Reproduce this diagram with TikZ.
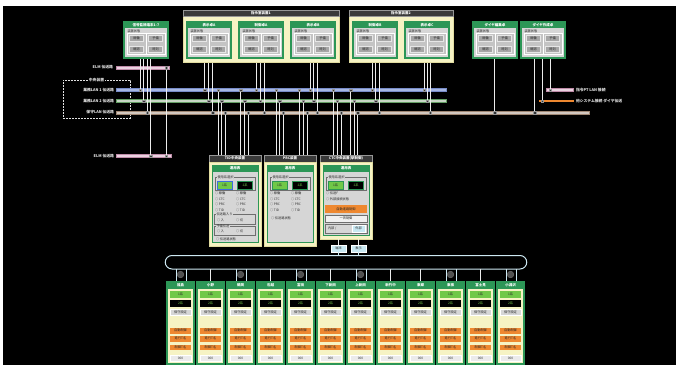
\documentclass[tikz,border=0pt]{standalone}
\usepackage{fontspec}
\setmainfont{Noto Sans CJK JP}
\definecolor{cgreen}{RGB}{44,150,86}
\definecolor{cbody}{RGB}{214,214,214}
\definecolor{cframe}{RGB}{196,196,196}
\definecolor{cbtn}{RGB}{166,166,166}
\definecolor{cbtnE}{RGB}{230,230,230}
\definecolor{cdark}{RGB}{40,40,40}
\definecolor{cmid}{RGB}{110,110,110}
\definecolor{cyel}{RGB}{246,243,196}
\definecolor{cyelE}{RGB}{225,220,160}
\definecolor{chead}{RGB}{58,58,58}
\definecolor{cgrayE}{RGB}{150,150,150}
\definecolor{clime}{RGB}{112,200,72}
\definecolor{corange}{RGB}{238,136,48}
\definecolor{cring}{RGB}{205,232,242}
\definecolor{cblue}{RGB}{166,182,226}
\definecolor{cblueE}{RGB}{120,140,200}
\definecolor{cbtnblue}{RGB}{60,110,220}
\definecolor{cgrn}{RGB}{200,214,198}
\definecolor{cgrnE}{RGB}{100,160,100}
\definecolor{ctan}{RGB}{210,200,192}
\definecolor{ctanE}{RGB}{160,135,115}
\definecolor{cpink}{RGB}{234,210,224}
\definecolor{cpinkE}{RGB}{190,140,168}
\definecolor{cline}{RGB}{235,235,235}
\definecolor{cdot}{RGB}{50,50,50}
\definecolor{clabel}{RGB}{225,225,225}
\definecolor{chub}{RGB}{80,80,80}
\definecolor{cltblue}{RGB}{200,232,242}
\tikzset{
 base/.style={inner sep=0pt, outer sep=0pt},
 box/.style 2 args={minimum width=#1pt, minimum height=#2pt},
 nw/.style={anchor=north west},
 ft/.style={font=\fontsize{3.2}{3.6}\selectfont},
 fth/.style={font=\fontsize{3.5}{3.9}\selectfont\bfseries},
 lbl/.style={base, ft, text=cdark},
 llbl/.style={base, font=\fontsize{3.8}{4.2}\selectfont\bfseries, text=clabel},
 cardout/.style={base, nw, fill=cgreen, box={46}{38}},
 cardin/.style={base, nw, fill=cbody, box={42}{29}},
 cardfr/.style={base, nw, fill=cframe, draw=white, line width=0.4pt, box={38}{21}},
 btn/.style={base, ft, fill=cbtn, draw=cbtnE, line width=0.3pt, box={14}{6}, text=cdark},
 grp/.style={base, nw, fill=cyel, draw=cyelE, line width=0.5pt},
 ghead/.style={base, nw, fth, fill=chead, draw=cgrayE, line width=0.4pt, text=white},
 pbody/.style={base, nw, fill=cyel, draw=cyelE, line width=0.5pt},
 pinner/.style={base, nw, fill=cbody, draw=cgreen, line width=1pt},
 ihead/.style={base, nw, fth, fill=cgreen, text=white},
 frm/.style={base, nw, draw=cmid, line width=0.4pt},
 k1s/.style={base, ft, fill=clime, draw=cgreen, line width=0.5pt, text=cdark},
 k2s/.style={base, ft, fill=black, draw=cgreen, line width=0.5pt, text=clime},
 gbar/.style={base, ft, fill=cbody, draw=white, line width=0.3pt, text=cdark},
 obar/.style={base, ft, fill=corange, text=cdark},
 colout/.style={base, nw, fill=cyel, draw=cgreen, line width=1.2pt, box={27}{82}},
 colhd/.style={base, nw, fth, fill=cgreen, text=white, box={27}{7}},
 bar/.style={base, nw, line width=0.5pt},
 vl/.style={draw=cline, line width=0.75pt},
 ringl/.style={draw=cring, line width=1pt},
 dot/.style={base, fill=cdot, draw=cgrayE, line width=0.3pt, box={2.6}{2.6}},
 sbox/.style={base, ft, fill=cltblue, draw=white, line width=0.3pt, box={15}{7}, text=cdark},
}
\newcommand\tcard[4]{%
\begin{scope}[shift={(#2,#3)}]
\node[cardout] (#1) at (0,0) {};
\node[base, fth, text=white] (#1t) at (23,3.7) {#4};
\node[cardin] (#1b) at (2,7) {};
\node[lbl, anchor=west] (#1l) at (4.5,10) {装置状態};
\node[cardfr] (#1f) at (4,12.5) {};
\draw[white, line width=0.4pt] (#1f.north) -- (#1f.south);
\node[btn] (#1a) at (13.5,17.5) {稼働};
\node[btn] (#1c) at (32.5,17.5) {予備};
\node[btn] (#1d) at (13.5,28) {確認};
\node[btn] (#1e) at (32.5,28) {時刻};
\end{scope}}
\newcommand\pbase[5]{%
\begin{scope}[shift={(#2,155)}]
\node[ghead, box={52}{7}] (#1) at (0,0) {#3};
\node[pbody, box={52}{#4}] (#1y) at (0,7) {};
\node[pinner, box={46}{#5}] (#1i) at (3,10) {};
\node[ihead, box={46}{7}] (#1h) at (3,10) {運用表};
\node[frm, box={40}{13}] (#1s) at (6,22) {};
\node[lbl, anchor=west, fill=cbody, inner xsep=0.5pt] (#1sl) at (8,22) {使用系選択};
\node[k1s, box={15}{8}] (#1k) at (15.5,30) {1系};
\node[k2s, box={15}{8}] (#1m) at (36,30) {2系};
\end{scope}}
\newcommand\stcol[3]{%
\begin{scope}[shift={(#2,282)}]
\node[colout] (#1) at (0,0) {};
\node[colhd] (#1h) at (0,0) {#3};
\node[k1s, draw=none, box={21}{6.5}] (#1a) at (13.5,12.25) {1系};
\node[k2s, draw=none, box={21}{6.5}] (#1b) at (13.5,21.25) {2系};
\node[gbar, box={21}{6.5}] (#1c) at (13.5,30.25) {保守設定};
\node[obar, box={21}{5.5}] (#1d) at (13.5,48.75) {自動制御};
\node[obar, box={21}{5.5}] (#1e) at (13.5,56.75) {進行T名};
\node[obar, box={21}{5.5}] (#1f) at (13.5,65.25) {制御T名};
\node[gbar, fill=white!92!black, box={21}{6}] (#1g) at (13.5,76) {000};
\end{scope}}
\begin{document}
\begin{tikzpicture}[x=1pt,y=-1pt]
\fill[white] (0,0) rectangle (681,367);
\fill[black] (3,6) rectangle (676,365);
\useasboundingbox (0,0) rectangle (681,367);
% dashed frame
\node[base, nw, draw=clabel, dash pattern=on 2pt off 1pt, line width=0.4pt, box={67}{38}] (cbox) at (63,80) {};
\node[llbl, fill=black, inner xsep=1pt] (cboxl) at (96.5,80) {中央装置};
% buses
\node[bar, fill=cpink, draw=cpinkE, box={53}{3}] (busP1) at (116,66) {};
\node[bar, fill=cblue, draw=cblueE, box={330}{3}] (busB) at (116,88.5) {};
\node[bar, fill=cgrn, draw=cgrnE, box={330}{3}] (busG) at (116,99.5) {};
\node[bar, fill=ctan, draw=ctanE, box={473}{3}] (busT) at (116,111) {};
\node[bar, fill=cpink, draw=cpinkE, box={55}{3}] (busP2) at (116,154.5) {};
\node[bar, fill=cpink, draw=cpinkE, box={27}{3}] (busP3) at (546,88.5) {};
\coordinate (oA) at (539,101);
\coordinate (oB) at (574,101);
\draw[corange, line width=1.1pt] (oA) -- (oB);
% labels
\node[llbl, anchor=east] (lP1) at (113,67.5) {ELM 伝送路};
\node[llbl, anchor=east] (lB) at (114,90) {業務LAN 1 伝送路};
\node[llbl, anchor=east] (lG) at (114,101) {業務LAN 2 伝送路};
\node[llbl, anchor=east] (lT) at (114,112.5) {保守LAN 伝送路};
\node[llbl, anchor=east] (lP2) at (114,156) {ELM 伝送路};
\node[llbl, anchor=west] (lP3) at (576,90) {指令PT LAN 接続};
\node[llbl, anchor=west] (lO) at (576,101) {他システム接続 ダイヤ伝送};
% drop lines from terminals to buses
\foreach \x/\ya/\yb [count=\n] in {140/59/90, 143.5/59/101, 147/59/112.5, 150.5/59/156, 166/67.5/156,
  204.5/59/90, 208.5/59/101, 212.5/59/112.5, 256/59/90, 260/59/101, 264/59/112.5,
  310/59/90, 313.5/59/101, 317/59/112.5, 372/59/90, 375.5/59/101, 379/59/112.5,
  424/59/90, 427/59/101, 430/59/112.5, 494.5/59/112.5, 534.5/59/112.5, 542/59/101, 550/59/90}
  {\draw[vl] (\x,\ya) -- (\x,\yb); \node[dot] (dc\n) at (\x,\yb) {};}
\node[dot] (dtop) at (166,67.5) {};
% lines from buses to central equipment
\foreach \x/\ya [count=\n] in {218/90, 221.5/101, 225/112.5, 240.5/90, 244.5/101, 248/112.5,
  276/90, 279.5/101, 283/112.5, 299/90, 303/101, 307/112.5,
  333/90, 337/101, 341/112.5, 350.5/90, 354/101, 357.5/112.5}
  {\draw[vl] (\x,\ya) -- (\x,155); \node[dot] (dp\n) at (\x,\ya) {};}
% groups
\node[grp, box={156}{52}] (g1) at (183,10) {};
\node[ghead, box={156}{6.5}] (g1h) at (183,10) {指令室装置1};
\node[grp, box={104}{52}] (g2) at (349,10) {};
\node[ghead, box={104}{6.5}] (g2h) at (349,10) {指令室装置2};
% terminal cards
\tcard{cL}{123}{21}{信号監視端末1-7}
\tcard{cA}{186}{21}{表示卓A}
\tcard{cB}{238}{21}{制御卓A}
\tcard{cC}{290}{21}{表示卓B}
\tcard{cD}{352}{21}{制御卓B}
\tcard{cE}{404}{21}{表示卓C}
\tcard{cF}{472}{21}{ダイヤ編集卓}
\tcard{cG}{520}{21}{ダイヤ作成卓}
% central panels
\pbase{pA}{209}{TID中央装置}{84}{77}
\pbase{pB}{264}{PRC装置}{84}{77}
\pbase{pC}{320}{CTC中央装置(駅制御)}{77}{70}
\draw[cbtnblue, line width=0.8pt] (pAk.north west) rectangle (pAk.south east);
\begin{scope}[shift={(209,155)}]
\foreach \t [count=\r] in {稼働, CTC, PRC, TID}
 {\node[lbl, anchor=west] (pAr\r) at (6,33+5.5*\r) {○ \t};
  \node[lbl, anchor=west] (pAs\r) at (27,33+5.5*\r) {○ \t};}
\node[frm, box={41}{10}] (pAf1) at (5,59) {};
\node[lbl, anchor=west, fill=cbody, inner xsep=0.5pt] (pAf1l) at (7,59) {伝送路入り};
\node[lbl, anchor=west] (pAf1a) at (8,65) {○ 入};
\node[lbl, anchor=west] (pAf1b) at (27,65) {○ 切};
\node[frm, box={41}{9}] (pAf2) at (5,71) {};
\node[lbl, anchor=west, fill=cbody, inner xsep=0.5pt] (pAf2l) at (7,71) {予備伝送};
\node[lbl, anchor=west] (pAf2a) at (8,76.5) {○ 入};
\node[lbl, anchor=west] (pAf2b) at (27,76.5) {○ 切};
\node[lbl, anchor=west] (pAst) at (7,84) {○ 伝送路状態};
\end{scope}
\begin{scope}[shift={(264,155)}]
\foreach \t [count=\r] in {稼働, CTC, PRC, TID}
 {\node[lbl, anchor=west] (pBr\r) at (6,33+5.5*\r) {○ \t};
  \node[lbl, anchor=west] (pBs\r) at (27,33+5.5*\r) {○ \t};}
\node[lbl, anchor=west] (pBst) at (7,63) {○ 伝送路状態};
\end{scope}
\begin{scope}[shift={(320,155)}]
\node[lbl, anchor=west] (pCr1) at (6,38.5) {○ 伝送F};
\node[lbl, anchor=west] (pCr2) at (6,44) {○ 外部接続状態};
\node[obar, nw, box={42}{8}] (pCo) at (5,50) {自動進路制御};
\node[gbar, nw, fill=white!94!black, draw=cmid, box={42}{7}] (pCw) at (5,60) {一斉制御};
\node[frm, box={42}{8.5}] (pCf) at (5,69.5) {};
\node[lbl, anchor=west] (pCfl) at (8,73.75) {内部 /};
\node[sbox, nw, box={13}{6.5}] (pCfb) at (32,70.5) {外部};
\end{scope}
% terminal boxes and ring
\node[sbox] (t1) at (338.5,248.5) {端末};
\node[sbox] (t2) at (358.5,248.5) {表示};
\draw[vl] (pCy.south -| t1) -- (t1.north);
\draw[vl] (pCy.south -| t2) -- (t2.north);
\node[base, nw, draw=cring, line width=1pt, rounded corners=6.75pt, box={361.5}{13.5}] (ring) at (165.25,255.5) {};
\draw[ringl] (t1.south) -- (t1.south |- ring.north);
\draw[ringl] (t2.south) -- (t2.south |- ring.north);
\foreach \xo [count=\n] in {167,227,287,347,437,497}
 {\draw[ringl] (\xo+9,269) -- (\xo+9,282);
  \draw[ringl] (\xo+19,269) -- (\xo+19,282);
  \node[base, circle, fill=chub, draw=cmid, line width=0.3pt, minimum size=6.8pt] (hub\n) at (\xo+13.5,274.5) {};}
\foreach \xo [count=\n] in {197,257,317,377,407,467}
 {\draw[vl] (\xo+13.5,269) -- (\xo+13.5,282);}
% station columns
\foreach \nm [count=\i] in {福島, 小野, 鶴岡, 石越, 富田, 下新田, 上新田, 新竹中, 東郷, 東根, 富士見, 小淵沢}
 {\stcol{s\i}{137+30*\i}{\nm}}
\end{tikzpicture}
\end{document}
